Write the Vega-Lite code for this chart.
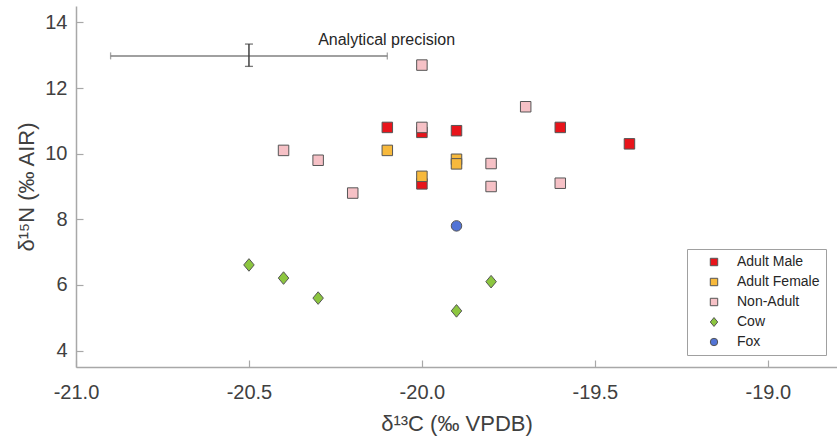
{
  "$schema": "https://vega.github.io/schema/vega-lite/v6.json",
  "width": 761,
  "height": 361,
  "autosize": "none",
  "padding": {"left": 76, "top": 6, "right": 0, "bottom": 75},
  "background": "white",
  "config": {
    "view": {"stroke": null},
    "font": "Liberation Sans",
    "axis": {
      "grid": false,
      "domainColor": "#a8a8a8",
      "domainWidth": 1.5,
      "tickColor": "#a8a8a8",
      "tickWidth": 1.2,
      "tickSize": -7,
      "labelFlush": false,
      "labelFont": "Liberation Sans",
      "labelFontSize": 20,
      "labelColor": "#404040",
      "titleFont": "Liberation Sans",
      "titleFontSize": 22,
      "titleFontWeight": "normal",
      "titleColor": "#404040"
    }
  },
  "datasets": {
    "points": [
      {"x": -20.1, "y": 10.8, "group": "Adult Male"},
      {"x": -20.0, "y": 10.65, "group": "Adult Male"},
      {"x": -19.9, "y": 10.7, "group": "Adult Male"},
      {"x": -19.6, "y": 10.8, "group": "Adult Male"},
      {"x": -19.4, "y": 10.3, "group": "Adult Male"},
      {"x": -20.0, "y": 9.08, "group": "Adult Male"},
      {"x": -20.1, "y": 10.1, "group": "Adult Female"},
      {"x": -20.0, "y": 9.31, "group": "Adult Female"},
      {"x": -19.9, "y": 9.83, "group": "Adult Female"},
      {"x": -19.9, "y": 9.69, "group": "Adult Female"},
      {"x": -20.0, "y": 12.7, "group": "Non-Adult"},
      {"x": -19.7, "y": 11.43, "group": "Non-Adult"},
      {"x": -20.0, "y": 10.8, "group": "Non-Adult"},
      {"x": -20.4, "y": 10.1, "group": "Non-Adult"},
      {"x": -20.3, "y": 9.8, "group": "Non-Adult"},
      {"x": -19.8, "y": 9.7, "group": "Non-Adult"},
      {"x": -19.8, "y": 9.0, "group": "Non-Adult"},
      {"x": -19.6, "y": 9.1, "group": "Non-Adult"},
      {"x": -20.2, "y": 8.8, "group": "Non-Adult"},
      {"x": -20.5, "y": 6.61, "group": "Cow"},
      {"x": -20.4, "y": 6.21, "group": "Cow"},
      {"x": -20.3, "y": 5.6, "group": "Cow"},
      {"x": -19.9, "y": 5.21, "group": "Cow"},
      {"x": -19.8, "y": 6.1, "group": "Cow"},
      {"x": -19.9, "y": 7.8, "group": "Fox"}
    ],
    "hbar": [{"x": -20.9, "x2": -20.1, "y": 12.98}],
    "hcaps": [{"x": -20.9, "y": 12.98}, {"x": -20.1, "y": 12.98}],
    "vbar": [{"x": -20.5, "y": 12.66, "y2": 13.34}],
    "vcaps": [{"x": -20.5, "y": 12.66}, {"x": -20.5, "y": 13.34}],
    "note": [{"x": -20.3, "y": 13.45, "text": "Analytical precision"}]
  },
  "encoding": {
    "x": {
      "field": "x",
      "type": "quantitative",
      "scale": {"domain": [-21, -18.8], "nice": false, "zero": false},
      "axis": {
        "title": "δ¹³C (‰ VPDB)",
        "values": [-21, -20.5, -20, -19.5, -19],
        "labelExpr": "replace(format(datum.value, '.1f'), '\u2212', '-')",
        "labelPadding": 22,
        "titlePadding": 11
      }
    },
    "y": {
      "field": "y",
      "type": "quantitative",
      "scale": {"domain": [3.5, 14.5], "nice": false, "zero": false},
      "axis": {
        "title": "δ¹⁵N (‰ AIR)",
        "values": [4, 6, 8, 10, 12, 14],
        "labelPadding": 16,
        "titlePadding": 6
      }
    }
  },
  "layer": [
    {
      "data": {"name": "hbar"},
      "mark": {"type": "rule", "color": "#808080", "strokeWidth": 1.5},
      "encoding": {"x2": {"field": "x2"}}
    },
    {
      "data": {"name": "hcaps"},
      "mark": {"type": "tick", "orient": "vertical", "color": "#808080", "size": 7, "thickness": 1.3}
    },
    {
      "data": {"name": "vbar"},
      "mark": {"type": "rule", "color": "#404040", "strokeWidth": 1.5},
      "encoding": {"y2": {"field": "y2"}}
    },
    {
      "data": {"name": "vcaps"},
      "mark": {"type": "tick", "orient": "horizontal", "color": "#404040", "size": 8, "thickness": 1.3}
    },
    {
      "data": {"name": "note"},
      "mark": {"type": "text", "align": "left", "baseline": "middle", "fontSize": 16, "color": "#262626", "font": "Liberation Sans"},
      "encoding": {"text": {"field": "text"}}
    },
    {
      "data": {"name": "points"},
      "mark": {"type": "point", "filled": true, "opacity": 1, "stroke": "#555555", "strokeWidth": 1, "size": 110},
      "encoding": {
        "color": {
          "field": "group",
          "type": "nominal",
          "scale": {
            "domain": ["Adult Male", "Adult Female", "Non-Adult", "Cow", "Fox"],
            "range": ["#e8141b", "#f7b93c", "#f6c1c6", "#8cc63f", "#5274d6"]
          },
          "legend": {
            "title": null,
            "orient": "none",
            "legendX": 611,
            "legendY": 243,
            "direction": "vertical",
            "padding": 6,
            "symbolOffset": 14,
            "labelOffset": 16,
            "rowPadding": 6,
            "labelFontSize": 14,
            "labelFont": "Liberation Sans",
            "labelColor": "#262626",
            "symbolSize": 55,
            "symbolStrokeColor": "#555555",
            "symbolStrokeWidth": 1,
            "symbolOpacity": 1,
            "fillColor": "white",
            "strokeColor": "#a0a0a0"
          }
        },
        "shape": {
          "field": "group",
          "type": "nominal",
          "scale": {
            "domain": ["Adult Male", "Adult Female", "Non-Adult", "Cow", "Fox"],
            "range": ["square", "square", "square", "M0,-1.2L1,0L0,1.2L-1,0Z", "circle"]
          },
          "legend": null
        }
      }
    }
  ]
}
